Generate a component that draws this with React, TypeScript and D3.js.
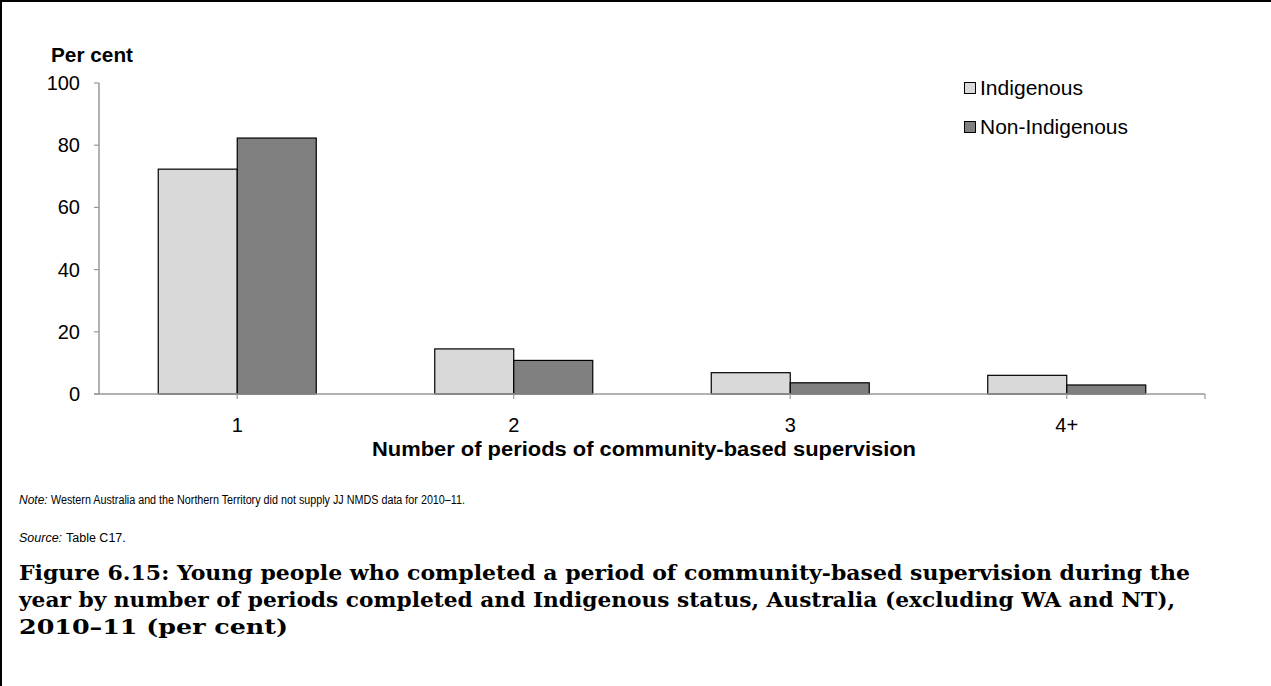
import React from "react";
import * as d3 from "d3";

const categories = ["1", "2", "3", "4+"];
const seriesNames = ["Indigenous", "Non-Indigenous"];
const indigenous = [72.3, 14.5, 6.85, 6.0];
const nonIndigenous = [82.3, 10.8, 3.6, 2.9];
const yTicks = [0, 20, 40, 60, 80, 100];
const colors = ["#d9d9d9", "#808080"];
const captionLines = [
  "Figure 6.15: Young people who completed a period of community-based supervision during the",
  "year by number of periods completed and Indigenous status, Australia (excluding WA and NT),",
  "2010–11 (per cent)",
];

const W = 1271;
const H = 686;
const left = 99;
const right = 1205;
const top = 83;
const bottom = 394;

export default function App() {
  const x = d3.scaleBand<string>().domain(categories).range([left, right]).paddingInner(0).paddingOuter(0);
  const y = d3.scaleLinear().domain([0, 100]).range([bottom, top]);
  const bw = x.bandwidth();
  const barW = bw / 3.5;
  const series = [indigenous, nonIndigenous];
  const sans = "'Liberation Sans', Arial, sans-serif";
  const serif = "'DejaVu Serif', 'Liberation Serif', serif";
  const captionLens = [1171, 1156, 269];
  const legendLens = [103, 148];

  return (
    <svg width={W} height={H} style={{ position: "absolute", left: 0, top: 0 }}>
      <rect x={0} y={0} width={W} height={H} fill="#fff" />
      <line x1={0} y1={1} x2={W} y2={1} stroke="#000" strokeWidth={2} />
      <line x1={1} y1={0} x2={1} y2={H} stroke="#000" strokeWidth={2} />

      <text x={51} y={62} fontFamily={sans} fontSize={21} fontWeight="bold" fill="#000"
        textLength={82} lengthAdjust="spacingAndGlyphs">Per cent</text>

      {yTicks.map((t) => (
        <g key={t}>
          <text x={80} y={y(t) + 7} textAnchor="end" fontFamily={sans} fontSize={20} fill="#000">{t}</text>
          <line x1={94} x2={99} y1={y(t)} y2={y(t)} stroke="#999" strokeWidth={1.2} />
        </g>
      ))}

      {series.map((vals, si) =>
        vals.map((v, i) => {
          const cx = (x(categories[i]) as number) + bw / 2;
          const x0 = si === 0 ? cx - barW : cx;
          return (
            <rect key={si + "-" + i} x={x0} y={y(v)} width={barW} height={bottom - y(v)}
              fill={colors[si]} stroke="#000" strokeWidth={1.2} />
          );
        })
      )}

      <line x1={left} x2={left} y1={top} y2={bottom} stroke="#999" strokeWidth={1.5} />
      <line x1={left - 5} x2={right} y1={bottom} y2={bottom} stroke="#999" strokeWidth={1.5} />
      {categories.map((c) => {
        const cx = (x(c) as number) + bw / 2;
        return (
          <g key={c}>
            <line x1={cx} x2={cx} y1={bottom} y2={bottom + 5} stroke="#999" strokeWidth={1.2} />
            <text x={cx} y={432} textAnchor="middle" fontFamily={sans} fontSize={20} fill="#000">{c}</text>
          </g>
        );
      })}
      <line x1={right} x2={right} y1={bottom} y2={bottom + 5} stroke="#999" strokeWidth={1.2} />

      <text x={372} y={456} fontFamily={sans} fontSize={20} fontWeight="bold" fill="#000"
        textLength={544} lengthAdjust="spacingAndGlyphs">
        Number of periods of community-based supervision
      </text>

      {seriesNames.map((s, i) => (
        <g key={s}>
          <rect x={964.5} y={82.5 + i * 39} width={11} height={11} fill={colors[i]} stroke="#000" strokeWidth={1} />
          <text x={980} y={95 + i * 39} fontFamily={sans} fontSize={20} fill="#000"
            textLength={legendLens[i]} lengthAdjust="spacingAndGlyphs">{s}</text>
        </g>
      ))}

      <text x={19} y={504} fontFamily={sans} fontSize={12} fontStyle="italic" fill="#000">Note:</text>
      <text x={51} y={504} fontFamily={sans} fontSize={12} fill="#000" textLength={414} lengthAdjust="spacingAndGlyphs">
        Western Australia and the Northern Territory did not supply JJ NMDS data for 2010–11.
      </text>
      <text x={19} y={542} fontFamily={sans} fontSize={12.5} fontStyle="italic" fill="#000">Source:</text>
      <text x={66} y={542} fontFamily={sans} fontSize={12.5} fill="#000">Table C17.</text>

      {captionLines.map((line, i) => (
        <text key={i} x={19} y={580 + i * 27} fontFamily={serif} fontSize={20} fontWeight="bold" fill="#000"
          textLength={captionLens[i]} lengthAdjust="spacingAndGlyphs">{line}</text>
      ))}
    </svg>
  );
}
